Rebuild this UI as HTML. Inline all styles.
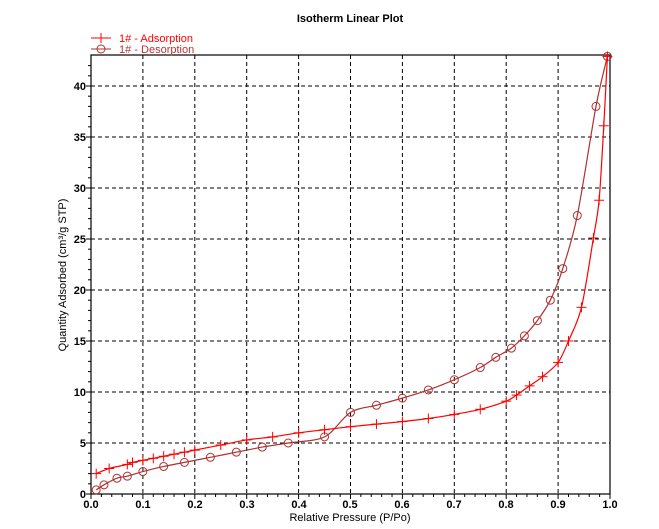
<!DOCTYPE html>
<html><head><meta charset="utf-8"><style>
body{margin:0;background:#fff;}
svg{display:block;font-family:"Liberation Sans",Arial,sans-serif;}
</style></head><body>
<svg id="s" width="659" height="529" xmlns="http://www.w3.org/2000/svg">
<rect width="659" height="529" fill="#fff"/>
<text x="350" y="22" font-size="11" font-weight="bold" text-anchor="middle">Isotherm Linear Plot</text>
<g id="grid" stroke="#000" stroke-width="1" stroke-dasharray="4,3"></g>
<rect x="91" y="55" width="519" height="439" fill="none" stroke="#000" stroke-width="1.2"/>
<g id="ticks" stroke="#000" stroke-width="1"></g>
<g font-size="11" font-weight="bold" text-anchor="end">
<text x="86" y="498">0</text><text x="86" y="447">5</text><text x="86" y="396">10</text><text x="86" y="345">15</text><text x="86" y="294">20</text><text x="86" y="243">25</text><text x="86" y="192">30</text><text x="86" y="141">35</text><text x="86" y="90">40</text>
</g>
<g font-size="11" font-weight="bold" text-anchor="middle">
<text x="91" y="508">0.0</text><text x="143" y="508">0.1</text><text x="195" y="508">0.2</text><text x="247" y="508">0.3</text><text x="299" y="508">0.4</text><text x="350" y="508">0.5</text><text x="402" y="508">0.6</text><text x="454" y="508">0.7</text><text x="506" y="508">0.8</text><text x="558" y="508">0.9</text><text x="610" y="508">1.0</text>
</g>
<text x="350" y="521" font-size="11" text-anchor="middle">Relative Pressure (P/Po)</text>
<text transform="translate(66,275) rotate(-90)" font-size="11" text-anchor="middle">Quantity Adsorbed (cm³/g STP)</text>
<g font-size="11">
<line x1="91" y1="38" x2="111" y2="38" stroke="#f00"/><line x1="101" y1="33" x2="101" y2="43" stroke="#f00"/>
<text x="119" y="42" fill="#f00">1# - Adsorption</text>
<line x1="91" y1="49" x2="111" y2="49" stroke="#b03030"/><circle cx="101" cy="49" r="4" fill="none" stroke="#b03030"/>
<text x="119" y="53" fill="#c03030">1# - Desorption</text>
</g>
<g id="data"></g>
</svg>
<script>
var X=function(v){return 91+v*519}, Y=function(v){return 494-v*10.2};
var g=document.getElementById('grid'),t=document.getElementById('ticks'),d=document.getElementById('data');
var ns='http://www.w3.org/2000/svg';
function el(p,n,a){var e=document.createElementNS(ns,n);for(var k in a)e.setAttribute(k,a[k]);p.appendChild(e);return e;}
for(var i=1;i<10;i++)el(g,'line',{x1:X(i/10),y1:55,x2:X(i/10),y2:494});
for(var i=1;i<=8;i++)el(g,'line',{x1:91,y1:Y(i*5),x2:610,y2:Y(i*5)});
for(var i=0;i<=42;i++){var L=i%5==0?5:3;el(t,'line',{x1:91-L,y1:Y(i),x2:91,y2:Y(i)});}
for(var i=0;i<=50;i++){var L=i%5==0?5:3;el(t,'line',{x1:X(i/50),y1:494,x2:X(i/50),y2:494+L});}
var ad=[[0.01,2.0],[0.035,2.5],[0.07,2.9],[0.08,3.1],[0.1,3.3],[0.12,3.5],[0.14,3.7],[0.16,3.9],[0.18,4.1],[0.2,4.3],[0.25,4.8],[0.3,5.3],[0.35,5.6],[0.4,6.0],[0.45,6.3],[0.5,6.6],[0.55,6.85],[0.6,7.1],[0.65,7.4],[0.7,7.8],[0.75,8.3],[0.8,9.1],[0.82,9.7],[0.845,10.6],[0.87,11.5],[0.9,12.9],[0.92,15.0],[0.945,18.3],[0.968,25.1],[0.979,28.8],[0.988,36.1],[0.995,42.9]];
var de=[[0.995,42.9],[0.973,38],[0.937,27.3],[0.909,22.1],[0.885,19.0],[0.86,17.0],[0.835,15.5],[0.81,14.3],[0.78,13.4],[0.75,12.4],[0.7,11.2],[0.65,10.2],[0.6,9.4],[0.55,8.7],[0.5,8.0],[0.45,5.6],[0.38,5.0],[0.33,4.6],[0.28,4.1],[0.23,3.6],[0.18,3.1],[0.14,2.7],[0.1,2.2],[0.07,1.75],[0.05,1.55],[0.025,0.9],[0.01,0.4]];
function pl(a,c){var P=a.map(function(p){return [X(p[0]),Y(p[1])]});var s='M'+P[0];
for(var i=0;i<P.length-1;i++){var p0=P[Math.max(0,i-1)],p1=P[i],p2=P[i+1],p3=P[Math.min(P.length-1,i+2)],k=0.15;
s+=' C'+(p1[0]+(p2[0]-p0[0])*k)+','+(p1[1]+(p2[1]-p0[1])*k)+' '+(p2[0]-(p3[0]-p1[0])*k)+','+(p2[1]-(p3[1]-p1[1])*k)+' '+p2[0]+','+p2[1];}
el(d,'path',{d:s,fill:'none',stroke:c,'stroke-width':1.2});}
pl(de,'#b03030');pl(ad,'#f00');
de.forEach(function(p){el(d,'circle',{cx:X(p[0]),cy:Y(p[1]),r:4,fill:'none',stroke:'#b03030'});});
ad.forEach(function(p){var x=X(p[0]),y=Y(p[1]);el(d,'line',{x1:x-5,y1:y,x2:x+5,y2:y,stroke:'#f00'});el(d,'line',{x1:x,y1:y-5,x2:x,y2:y+5,stroke:'#f00'});});
</script>
</body></html>
